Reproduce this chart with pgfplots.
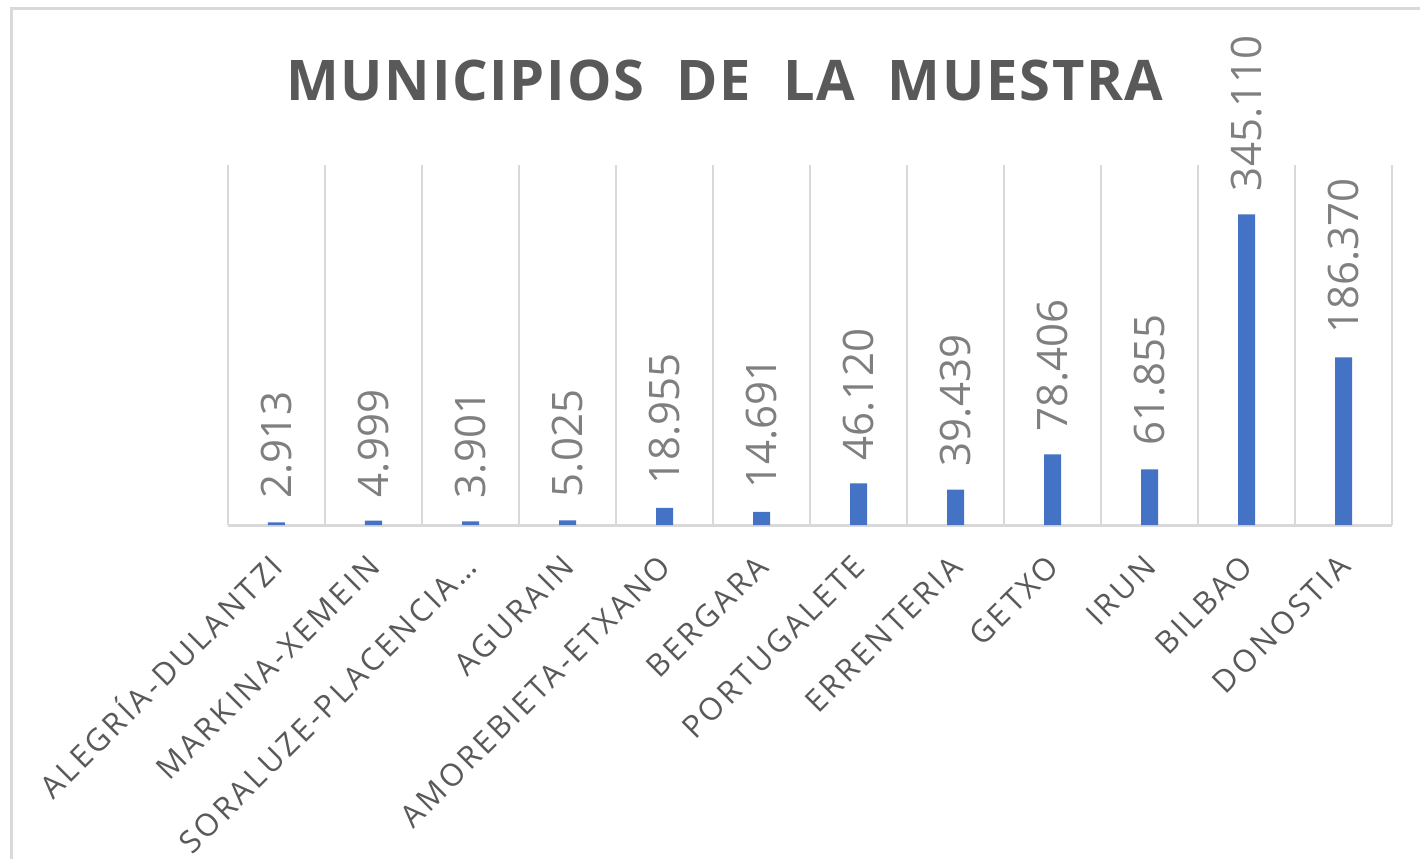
\documentclass[border=0pt]{standalone}
\usepackage{fontspec}
\setmainfont{Open Sans}
\usepackage{pgfplots}
\pgfplotsset{compat=1.18}
\definecolor{barblue}{HTML}{4472C4}
\definecolor{gridgray}{HTML}{D9D9D9}
\definecolor{titlegray}{HTML}{595959}
\definecolor{tickgray}{HTML}{595959}
\definecolor{datagray}{HTML}{7F7F7F}
\begin{document}
\begin{tikzpicture}
\useasboundingbox (0,0) rectangle (710pt,429.5pt);
\draw[gridgray, line width=1.5pt] (5.5pt,0) -- (5.5pt,425pt) -- (710pt,425pt);
\node[font=\fontsize{28}{30}\selectfont\bfseries\addfontfeature{LetterSpace=3}, text=titlegray, inner sep=0pt] at (362.5pt,389.5pt) {MUNICIPIOS\ \ DE\ \ LA\ \ MUESTRA};
\begin{axis}[
  at={(114pt,167pt)}, anchor=south west,
  scale only axis, width=582pt, height=180pt,
  xmin=-0.5, xmax=11.5, ymin=0, ymax=400000,
  axis x line*=bottom, axis y line=none,
  x axis line style={gridgray, line width=1.5pt, -},
  xtick={0,...,11},
  xticklabels={ALEGRÍA-DULANTZI, MARKINA-XEMEIN, {SORALUZE-PLACENCIA…}, AGURAIN, AMOREBIETA-ETXANO, BERGARA, PORTUGALETE, ERRENTERIA, GETXO, IRUN, BILBAO, DONOSTIA},
  minor xtick={-0.5,0.5,...,11.5},
  xminorgrids=true,
  minor grid style={gridgray, line width=1pt},
  major tick length=0pt, minor tick length=0pt,
  ytick=\empty,
  xticklabel style={xshift=-3.5pt, yshift=-14pt, rotate=45, anchor=north east, inner sep=0pt, text height=11pt, text depth=0pt,
    font=\fontsize{15.5}{17}\selectfont\addfontfeature{LetterSpace=10}, text=tickgray},
  clip=false,
  ybar, bar width=8.5pt,
  point meta=explicit symbolic,
  nodes near coords,
  every node near coord/.append style={yshift=11.5pt, rotate=90, anchor=west, inner sep=0pt,
    font=\fontsize{21}{23}\selectfont, text=datagray},
]
\addplot[fill=barblue, draw=none] coordinates {
  (0,2913) [2.913]
  (1,4999) [4.999]
  (2,3901) [3.901]
  (3,5025) [5.025]
  (4,18955) [18.955]
  (5,14691) [14.691]
  (6,46120) [46.120]
  (7,39439) [39.439]
  (8,78406) [78.406]
  (9,61855) [61.855]
  (10,345110) [345.110]
  (11,186370) [186.370]
};
\end{axis}
\end{tikzpicture}
\end{document}
